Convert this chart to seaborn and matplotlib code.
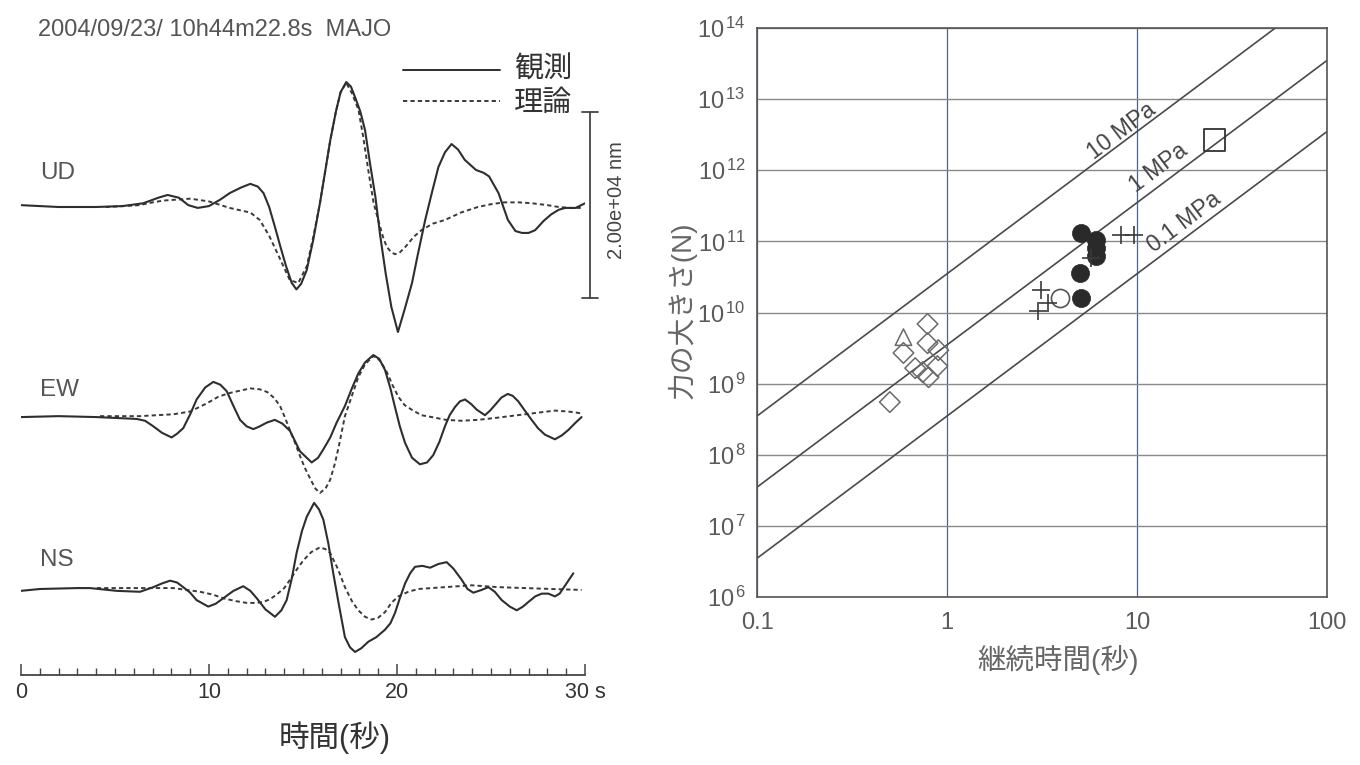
import numpy as np
import pandas as pd
import matplotlib
matplotlib.use("Agg")
import matplotlib.pyplot as plt
from matplotlib.ticker import MultipleLocator, NullLocator, FixedLocator
import seaborn as sns

# ---------------- data: waveforms (time in s, displacement in micrometres) ----------------
ud_t = [0, 2, 4, 5.4, 6.5, 7.3, 7.8, 8.4, 8.9, 9.4, 10.0, 10.6, 11.1, 11.7, 12.2, 12.6, 12.9, 13.2,
        13.5, 13.8, 14.1, 14.4, 14.65, 14.9, 15.2, 15.55, 15.9, 16.2, 16.45, 16.75, 17.0, 17.3, 17.55,
        17.8, 18.05, 18.3, 18.55, 18.85, 19.1, 19.4, 19.7, 20.05, 20.4, 20.8, 21.1, 21.5, 21.85, 22.2,
        22.55, 22.9, 23.25, 23.6, 24.2, 24.6, 24.9, 25.4, 25.9, 26.3, 26.65, 27.0, 27.35, 27.8, 28.2,
        28.6, 28.95, 29.5, 30.0]
ud_obs = [0.2, 0.0, 0.0, 0.1, 0.4, 1.0, 1.3, 1.0, 0.2, -0.1, 0.1, 0.8, 1.5, 2.1, 2.5, 2.2, 1.5, 0.0,
          -2.1, -4.3, -6.4, -8.2, -8.9, -8.3, -6.8, -3.5, 0.4, 4.1, 7.2, 10.3, 12.4, 13.5, 13.0,
          11.7, 10.3, 8.3, 4.9, 1.1, -3.0, -7.2, -10.8, -13.5, -11.1, -8.2, -5.2, -1.4, 1.5, 4.3,
          5.9, 6.8, 6.2, 5.1, 4.0, 3.7, 3.3, 1.5, -1.4, -2.6, -2.8, -2.8, -2.5, -1.5, -0.8,
          -0.3, -0.1, -0.1, 0.4]
ud_syn_t = [4.5, 5.5, 6.3, 7.0, 7.6, 9.0, 10.0, 11.1, 12.2, 12.7, 13.2, 13.8, 14.3, 14.75, 15.2, 15.55,
            15.9, 16.2, 16.45, 16.75, 17.0, 17.3, 17.6, 17.95, 18.2, 18.47, 18.75, 19.0, 19.25, 19.45,
            19.7, 19.9, 20.15, 20.45, 20.9, 21.3, 21.9, 22.55, 23.4, 24.3, 25.0, 25.7, 26.5, 27.2,
            28.0, 28.6, 29.2, 29.65, 29.9]
ud_syn = [0.0, 0.1, 0.2, 0.5, 0.7, 0.9, 0.6, -0.1, -0.6, -1.4, -3.1, -5.7, -7.9, -8.2, -6.4, -3.2,
          0.4, 4.1, 7.2, 10.3, 12.4, 13.4, 12.3, 10.5, 7.6, 4.0, 0.5, -1.4, -3.2, -4.3,
          -4.9, -5.1, -4.9, -4.3, -3.2, -2.5, -1.8, -1.4, -0.6, 0.0, 0.3, 0.5, 0.5, 0.4,
          0.2, 0.0, -0.1, -0.1, -0.1]

ew_t = [0, 2, 4, 6.15, 6.6, 7.04, 7.5, 8.01, 8.3, 8.63, 9.0, 9.34, 9.8, 10.23, 10.6, 10.94, 11.3,
        11.65, 12.0, 12.36, 12.7, 13.07, 13.5, 13.9, 14.31, 14.84, 15.46, 15.8, 16.08, 16.45, 16.79,
        17.23, 17.6, 17.94, 18.3, 18.74, 19.05, 19.36, 19.65, 19.89, 20.15, 20.43, 20.8, 21.22, 21.6,
        21.93, 22.25, 22.55, 22.8, 23.09, 23.35, 23.62, 23.95, 24.24, 24.68, 24.95, 25.21, 25.55,
        25.89, 26.15, 26.45, 26.8, 27.16, 27.5, 27.87, 28.4, 28.75, 29.11, 29.5, 29.82]
ew_obs = [0.1, 0.2, 0.1, -0.1, -0.3, -0.9, -1.6, -2.1, -1.7, -1.1, 0.4, 2.0, 3.3, 3.9, 3.6, 2.9, 1.3,
          -0.2, -0.9, -1.2, -0.9, -0.5, -0.2, -0.6, -1.4, -3.6, -4.8, -4.3, -3.4, -2.1, -0.5,
          1.3, 3.2, 4.8, 6.0, 6.8, 6.4, 5.2, 3.2, 1.2, -0.9, -2.7, -4.3, -5.0, -4.8,
          -4.0, -2.6, -0.9, 0.3, 1.2, 1.8, 2.0, 1.5, 0.9, 0.3, 0.8, 1.4, 2.2,
          2.6, 2.4, 1.8, 0.8, -0.2, -1.1, -1.8, -2.3, -1.9, -1.3, -0.5, 0.1]
ew_syn_t = [4.2, 6.3, 8.1, 9.0, 9.9, 10.5, 11.1, 12.2, 12.7, 13.1, 13.5, 13.8, 14.05, 14.3, 14.6, 14.84,
            15.1, 15.37, 15.65, 15.9, 16.2, 16.44, 16.7, 16.9, 17.23, 17.6, 17.94, 18.3, 18.74, 19.1,
            19.45, 19.75, 20.07, 20.4, 20.78, 21.3, 21.85, 22.6, 23.44, 24.3, 25.21, 26.0, 26.81,
            27.6, 28.4, 29.1, 29.82]
ew_syn = [0.2, 0.2, 0.4, 0.7, 1.6, 2.3, 2.7, 3.2, 3.1, 2.8, 2.1, 1.2, 0.0, -1.3, -2.8, -4.1,
          -5.4, -6.5, -7.6, -8.1, -7.6, -6.7, -4.9, -3.1, 0.2, 2.4, 4.4, 5.8, 6.7, 6.2,
          5.0, 3.6, 2.3, 1.4, 0.9, 0.3, 0.1, -0.2, -0.3, -0.2, 0.0, 0.2, 0.4,
          0.6, 0.8, 0.7, 0.5]

ns_t = [0, 1, 3, 3.67, 5.09, 6.33, 7.04, 7.5, 7.93, 8.3, 8.63, 9.0, 9.34, 9.96, 10.35, 10.76, 11.3,
        11.82, 12.2, 12.54, 13.0, 13.51, 13.85, 14.13, 14.4, 14.66, 14.95, 15.2, 15.59, 15.85, 16.08,
        16.35, 16.61, 16.9, 17.23, 17.5, 17.77, 18.1, 18.47, 18.9, 19.36, 19.65, 19.89, 20.15, 20.43,
        20.7, 20.96, 21.35, 21.76, 22.2, 22.64, 23.0, 23.44, 23.75, 24.06, 24.5, 24.86, 25.2, 25.57,
        26.0, 26.37, 26.7, 26.99, 27.35, 27.7, 28.05, 28.4, 28.65, 28.85, 29.38]
ns_obs = [-0.2, 0.0, 0.1, 0.1, -0.2, -0.3, 0.2, 0.6, 0.9, 0.7, 0.2, -0.4, -1.2, -1.9, -1.6, -1.0, -0.2,
          0.3, -0.2, -1.0, -2.2, -3.0, -2.3, -1.2, 1.1, 3.9, 6.3, 7.8, 9.3, 8.6, 7.5,
          4.9, 1.7, -1.6, -5.2, -6.3, -6.8, -6.4, -5.7, -5.2, -4.4, -3.7, -2.6, -1.0, 0.6,
          1.7, 2.4, 2.5, 2.3, 2.7, 2.9, 2.2, 1.0, 0.0, -0.4, -0.1, 0.2, -0.3, -1.2,
          -1.9, -2.3, -1.9, -1.4, -0.8, -0.5, -0.5, -0.8, -0.5, 0.1, 1.7]
ns_syn_t = [4.03, 6.33, 8.1, 9.52, 10.2, 10.76, 11.4, 12.0, 12.5, 12.89, 13.25, 13.6, 14.0, 14.31, 14.7,
            15.02, 15.45, 15.9, 16.2, 16.44, 16.85, 17.23, 17.6, 17.94, 18.3, 18.65, 19.0, 19.36,
            19.7, 20.07, 20.6, 21.13, 22.55, 23.97, 25.39, 26.81, 28.23, 29.82]
ns_syn = [0.1, 0.1, 0.1, -0.3, -0.6, -1.0, -1.3, -1.5, -1.5, -1.4, -1.1, -0.6, 0.1, 1.0, 2.2,
          3.1, 4.0, 4.5, 4.3, 3.9, 2.2, 0.2, -1.3, -2.3, -3.0, -3.3, -3.1, -2.5,
          -1.5, -0.8, -0.3, 0.0, 0.2, 0.4, 0.2, 0.1, 0.0, -0.1]

components = ["UD", "EW", "NS"]
scale_bar_um = 20.0   # 2.00e+04 nm

# ---------------- data: force vs duration ----------------
diamond_T = [0.50, 0.59, 0.79, 0.79, 0.90, 0.68, 0.745, 0.80, 0.89]
diamond_F = [5.5e8, 2.7e9, 6.9e9, 3.7e9, 2.95e9, 1.65e9, 1.45e9, 1.23e9, 1.76e9]
triangle_T = [0.59]
triangle_F = [4.5e9]
filled_T = [5.08, 5.0, 5.08, 6.1, 6.1, 6.1]
filled_F = [1.3e11, 3.6e10, 1.6e10, 1.05e11, 8.1e10, 6.2e10]
open_circle_T = [3.94]
open_circle_F = [1.6e10]
plus_T = [3.13, 3.4, 3.01, 5.74, 8.28, 9.7]
plus_F = [2.07e10, 1.35e10, 1.05e10, 5.8e10, 1.23e11, 1.23e11]
square_T = [25.6]
square_F = [2.66e12]

stress_MPa = [10, 1, 0.1]
stress_labels = ["10 MPa", "1 MPa", "0.1 MPa"]
K_force = 3.5e9          # N per MPa per s^2  (F = K * stress * T^2)
line_T = [0.1, 100]
x_ticks = [0.1, 1, 10, 100]
x_ticklabels = ["0.1", "1", "10", "100"]
y_exponents = list(range(6, 15))

# ---------------- style ----------------
sns.set_theme(style="white")
plt.rcParams["font.family"] = ["Liberation Sans", "Noto Sans CJK JP", "DejaVu Sans"]
plt.rcParams["mathtext.fontset"] = "custom"
plt.rcParams["mathtext.rm"] = "Liberation Sans"
plt.rcParams["mathtext.it"] = "Liberation Sans:italic"
plt.rcParams["mathtext.bf"] = "Liberation Sans:bold"
plt.rcParams["mathtext.default"] = "rm"

W, H = 1360, 765
fig = plt.figure(figsize=(13.6, 7.65), dpi=100)
fig.patch.set_facecolor("white")

def fx(px):
    return px / W

def fy(py):
    return 1 - py / H

# ================= left panel: waveforms =================
PX = 0.108            # micrometres per pixel
axL = fig.add_axes([fx(21), fy(675), fx(585) - fx(21), fy(10) - fy(675)])
axL.patch.set_alpha(0)
axL.set_xlim(0, 30)
axL.set_ylim(-(675 - 589) * PX, (589 - 10) * PX)
offsets = {"UD": (589 - 207) * PX, "EW": (589 - 418) * PX, "NS": 0.0}
series = {
    "UD": (ud_t, ud_obs, ud_syn_t, ud_syn),
    "EW": (ew_t, ew_obs, ew_syn_t, ew_syn),
    "NS": (ns_t, ns_obs, ns_syn_t, ns_syn),
}
label_y = {"UD": 173, "EW": 390, "NS": 560}
for comp in components:
    t_o, v_o, t_s, v_s = series[comp]
    off = offsets[comp]
    sns.lineplot(x=np.array(t_s), y=np.array(v_s) + off, ax=axL, color="#3a3a3a",
                 linewidth=1.4, linestyle=(0, (2.2, 1.6)), sort=False, estimator=None)
    sns.lineplot(x=np.array(t_o), y=np.array(v_o) + off, ax=axL, color="#2e2e2e",
                 linewidth=1.5, sort=False, estimator=None)
    axL.text(1.0, (589 - label_y[comp]) * PX, comp, ha="left", va="center",
             fontsize=17.5, color="#555555")

for s in ["top", "left", "right"]:
    axL.spines[s].set_visible(False)
axL.spines["bottom"].set_color("#444444")
axL.spines["bottom"].set_linewidth(1.3)
axL.set_yticks([])
axL.xaxis.set_major_locator(FixedLocator([0, 10, 20, 30]))
axL.set_xticklabels(["0", "10", "20", "30 s"])
axL.xaxis.set_minor_locator(MultipleLocator(1))
axL.tick_params(axis="x", which="major", bottom=True, direction="in", length=8, width=1.1,
                color="#444444", pad=5, labelsize=15.5, labelcolor="#333333")
axL.tick_params(axis="x", which="minor", bottom=True, direction="in", length=5, width=1.0,
                color="#444444")
axL.set_xlabel("")
axL.set_ylabel("")

# legend (drawn)
t_leg0, t_leg1, t_txt = (403 - 21) / 18.8, (500 - 21) / 18.8, (514 - 21) / 18.8
axL.plot([t_leg0, t_leg1], [(589 - 70) * PX] * 2, color="#2e2e2e", lw=1.4, clip_on=False)
axL.plot([t_leg0, t_leg1], [(589 - 101) * PX] * 2, color="#3a3a3a", lw=1.4,
         linestyle=(0, (2.2, 1.6)), clip_on=False)
axL.text(t_txt, (589 - 70) * PX, "観測", ha="left", va="center", fontsize=21, color="#333333")
axL.text(t_txt, (589 - 103) * PX, "理論", ha="left", va="center", fontsize=21, color="#333333")

# scale bar
t_bar = (590 - 21) / 18.8
bar_c = (589 - 205) * PX
cap = 0.42
axL.plot([t_bar, t_bar], [bar_c - scale_bar_um / 2, bar_c + scale_bar_um / 2],
         color="#444444", lw=1.3, clip_on=False)
for yy in (bar_c - scale_bar_um / 2, bar_c + scale_bar_um / 2):
    axL.plot([t_bar - cap, t_bar + cap], [yy, yy], color="#444444", lw=1.3, clip_on=False)
axL.text((617 - 21) / 18.8, (589 - 200) * PX, "2.00e+04 nm", rotation=90, ha="center", va="center",
         fontsize=14.5, color="#444444", clip_on=False)

fig.text(fx(38), fy(30), "2004/09/23/ 10h44m22.8s  MAJO", ha="left", va="center",
         fontsize=17, color="#555555")
fig.text(fx(335), fy(738), "時間(秒)", ha="center", va="center", fontsize=22, color="#333333")

# ================= right panel: force vs duration =================
axR = fig.add_axes([fx(757), fy(597), fx(1327) - fx(757), fy(28) - fy(597)])
axR.set_xscale("log")
axR.set_yscale("log")

Tl = np.array(line_T, dtype=float)
for s_val in stress_MPa:
    sns.lineplot(x=Tl, y=K_force * s_val * Tl ** 2, ax=axR, color="#4a4a4a", linewidth=1.2,
                 sort=False, estimator=None)

label_pos = {"10 MPa": (8.28, 3.55e12), "1 MPa": (13.0, 1.07e12), "0.1 MPa": (17.6, 1.86e11)}
for lab in stress_labels:
    x0, y0 = label_pos[lab]
    axR.text(x0, y0, lab, rotation=37, rotation_mode="anchor", ha="center", va="center",
             fontsize=16.5, color="#444444")

sns.scatterplot(x=diamond_T, y=diamond_F, ax=axR, marker="D", s=110, facecolor="none",
                edgecolor="#6a6a6a", linewidth=1.1, zorder=3)
sns.scatterplot(x=triangle_T, y=triangle_F, ax=axR, marker="^", s=140, facecolor="none",
                edgecolor="#6a6a6a", linewidth=1.1, zorder=3)
sns.scatterplot(x=open_circle_T, y=open_circle_F, ax=axR, marker="o", s=170, facecolor="white",
                edgecolor="#555555", linewidth=1.2, zorder=3)
sns.scatterplot(x=filled_T, y=filled_F, ax=axR, marker="o", s=170, color="#2a2a2a",
                edgecolor="#2a2a2a", linewidth=0.5, zorder=4)
sns.scatterplot(x=plus_T, y=plus_F, ax=axR, marker="+", s=170, color="#3a3a3a",
                linewidth=1.2, zorder=4)
sns.scatterplot(x=square_T, y=square_F, ax=axR, marker="s", s=230, facecolor="none",
                edgecolor="#333333", linewidth=1.3, zorder=3)

axR.set_xlim(0.1, 100)
axR.set_ylim(1e6, 1e14)
axR.xaxis.set_major_locator(FixedLocator(x_ticks))
axR.set_xticklabels(x_ticklabels)
axR.yaxis.set_major_locator(FixedLocator([10.0 ** k for k in y_exponents]))
axR.set_yticklabels([r"$10^{\,%d}$" % k for k in y_exponents])
axR.xaxis.set_minor_locator(NullLocator())
axR.yaxis.set_minor_locator(NullLocator())
axR.tick_params(axis="x", length=0, labelsize=17, labelcolor="#5a5a5a", pad=11)
axR.tick_params(axis="y", length=0, labelsize=17, labelcolor="#5a5a5a", pad=8)
axR.grid(True, axis="y", color="#8a8a8a", linewidth=1.0)
axR.grid(True, axis="x", color="#4a6585", linewidth=0.9)
axR.set_axisbelow(True)
for s in axR.spines.values():
    s.set_color("#555555")
    s.set_linewidth(1.2)
axR.set_xlabel("")
axR.set_ylabel("")

fig.text(fx(682), fy(310), "力の大きさ(N)", rotation=90, ha="center", va="center",
         fontsize=20, color="#666666")
fig.text(fx(1058), fy(660), "継続時間(秒)", ha="center", va="center", fontsize=20.5,
         color="#666666")

fig.savefig("out.png", dpi=100, facecolor="white")
